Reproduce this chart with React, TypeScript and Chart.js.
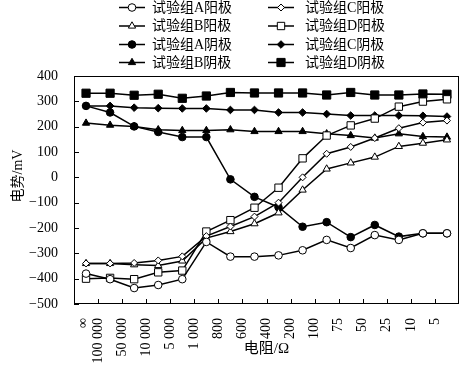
import React, { useEffect, useRef } from 'react';
import { Chart, registerables } from 'chart.js';
import { drawPoint } from 'chart.js/helpers';

Chart.register(...registerables);

// x categories (resistance, Ω)
const xTickLabels = ['∞', '100 000', '50 000', '10 000', '5 000', '1 000', '800', '600', '400', '200', '100', '75', '50', '25', '10', '5'];
// y tick values
const yTickValues = [-500, -400, -300, -200, -100, 0, 100, 200, 300, 400];

// series (mV)
const anodeA = [-380, -402, -437, -425, -402, -255, -313, -313, -308, -288, -247, -279, -228, -247, -221, -221];
const anodeB = [-340, -340, -345, -348, -330, -240, -214, -183, -140, -50, 33, 57, 80, 122, 135, 148];
const anodeC = [-340, -340, -338, -328, -312, -232, -194, -155, -100, 0, 93, 120, 155, 194, 216, 224];
const anodeD = [-400, -397, -402, -375, -368, -214, -169, -120, -41, 75, 165, 205, 232, 279, 299, 308];
const cathodeA = [282, 256, 201, 179, 159, 159, -8, -77, -118, -195, -177, -236, -188, -234, -221, -221];
const cathodeB = [214, 206, 201, 188, 185, 185, 188, 181, 181, 181, 172, 165, 155, 172, 161, 159];
const cathodeC = [282, 282, 275, 273, 272, 272, 266, 266, 256, 256, 250, 244, 244, 244, 243, 240];
const cathodeD = [332, 332, 324, 328, 312, 321, 335, 333, 333, 333, 325, 335, 325, 325, 329, 328];

const seriesNames = ['试验组A阳极', '试验组C阳极', '试验组B阳极', '试验组D阳极', '试验组A阴极', '试验组C阴极', '试验组B阴极', '试验组D阴极'];

const SERIF = "'Liberation Serif', 'Noto Sans CJK SC', serif";

function toPoints(arr: number[]) {
  return arr.map((v, i) => ({ x: i, y: v }));
}

function ds(label: string, values: number[], style: string, filled: boolean, radius: number) {
  return {
    label,
    data: toPoints(values),
    borderColor: '#000',
    borderWidth: 1.5,
    pointStyle: style,
    pointRadius: radius,
    pointBorderWidth: 1,
    pointBorderColor: '#000',
    pointBackgroundColor: filled ? '#000' : '#fff',
    fill: false,
    tension: 0,
  };
}

const framePlugin = {
  id: 'framePlugin',
  afterDraw(chart: any) {
    const { ctx, chartArea } = chart;
    const { left, top, right, bottom } = chartArea;
    const xs = chart.scales.x;
    const ys = chart.scales.y;
    ctx.save();
    ctx.strokeStyle = '#000';
    ctx.lineWidth = 1;
    ctx.strokeRect(left + 0.5, top + 0.5, right - left - 1, bottom - top - 1);
    ctx.beginPath();
    ys.ticks.forEach((t: any) => {
      const y = Math.round(ys.getPixelForValue(t.value)) + 0.5;
      ctx.moveTo(left, y);
      ctx.lineTo(left + 5, y);
    });
    xs.ticks.forEach((t: any, i: number) => {
      if (i === 0) return;
      const x = Math.round(xs.getPixelForValue(t.value)) + 0.5;
      ctx.moveTo(x, bottom);
      ctx.lineTo(x, bottom - 5);
    });
    ctx.stroke();

    // y axis title
    ctx.save();
    ctx.translate(18, 176);
    ctx.rotate(-Math.PI / 2);
    ctx.fillStyle = '#000';
    ctx.font = `14px ${SERIF}`;
    ctx.textAlign = 'center';
    ctx.textBaseline = 'middle';
    ctx.fillText('电势/mV', 0, 0);
    ctx.restore();

    // legend: 2 columns x 4 rows
    const colLine = [[119, 145], [268, 294]];
    const colText = [152, 305];
    const rowY = [7.5, 26, 44.5, 62.5];
    chart.data.datasets.forEach((d: any, i: number) => {
      const col = i % 2;
      const row = Math.floor(i / 2);
      const y = rowY[row];
      const [x1, x2] = colLine[col];
      ctx.strokeStyle = '#000';
      ctx.lineWidth = 1.5;
      ctx.beginPath();
      ctx.moveTo(x1, y);
      ctx.lineTo(x2, y);
      ctx.stroke();
      ctx.fillStyle = d.pointBackgroundColor;
      ctx.strokeStyle = '#000';
      ctx.lineWidth = 1;
      drawPoint(ctx, { pointStyle: d.pointStyle, radius: d.pointRadius, rotation: 0, borderWidth: 1 }, (x1 + x2) / 2, y);
      ctx.fillStyle = '#000';
      ctx.font = `14px ${SERIF}`;
      ctx.textAlign = 'left';
      ctx.textBaseline = 'middle';
      ctx.fillText(d.label, colText[col], y + 0.5);
    });
    ctx.restore();
  },
};

export default function App() {
  const ref = useRef<HTMLCanvasElement | null>(null);
  useEffect(() => {
    if (!ref.current) return;
    Chart.defaults.color = '#000';
    const chart = new Chart(ref.current, {
      type: 'line',
      data: {
        datasets: [
          ds(seriesNames[0], anodeA, 'circle', false, 3.8),
          ds(seriesNames[1], anodeC, 'rectRot', false, 3.5),
          ds(seriesNames[2], anodeB, 'triangle', false, 4.2),
          ds(seriesNames[3], anodeD, 'rect', false, 5.2),
          ds(seriesNames[4], cathodeA, 'circle', true, 3.8),
          ds(seriesNames[5], cathodeC, 'rectRot', true, 3.8),
          ds(seriesNames[6], cathodeB, 'triangle', true, 4.2),
          ds(seriesNames[7], cathodeD, 'rect', true, 5.8),
        ] as any,
      },
      options: {
        animation: false,
        responsive: false,
        devicePixelRatio: 1,
        layout: { padding: { top: 76, right: 14, left: 0, bottom: 0 } },
        plugins: { legend: { display: false }, tooltip: { enabled: false } },
        scales: {
          x: {
            type: 'linear',
            min: -0.5,
            max: 15.5,
            grid: { display: false },
            border: { display: false },
            afterFit: (s: any) => { s.height = 63; },
            afterBuildTicks: (s: any) => {
              s.ticks = xTickLabels.map((_, k) => ({ value: k === 0 ? -0.125 : k - 0.5 }));
            },
            ticks: {
              autoSkip: false,
              minRotation: 90,
              maxRotation: 90,
              padding: 6,
              font: { family: SERIF, size: 14 },
              callback: (_v: any, i: number) => xTickLabels[i],
            },
            title: {
              display: true,
              text: '电阻/Ω',
              font: { family: SERIF, size: 15 },
              padding: { top: 0, bottom: 9 },
            },
          },
          y: {
            type: 'linear',
            min: -500,
            max: 400,
            grid: { display: false },
            border: { display: false },
            afterFit: (s: any) => { s.width = 74; },
            afterBuildTicks: (s: any) => {
              s.ticks = yTickValues.map((v) => ({ value: v }));
            },
            ticks: {
              padding: 8,
              font: { family: SERIF, size: 14 },
              callback: (v: any) => (v < 0 ? '−' + Math.abs(v) : String(v)),
            },
          },
        },
      } as any,
      plugins: [framePlugin],
    });
    return () => chart.destroy();
  }, []);
  return (
    <div style={{ position: 'fixed', left: 0, top: 0, width: 473, height: 367, background: '#fff' }}>
      <canvas ref={ref} width={473} height={367} style={{ width: 473, height: 367, display: 'block' }} />
    </div>
  );
}
